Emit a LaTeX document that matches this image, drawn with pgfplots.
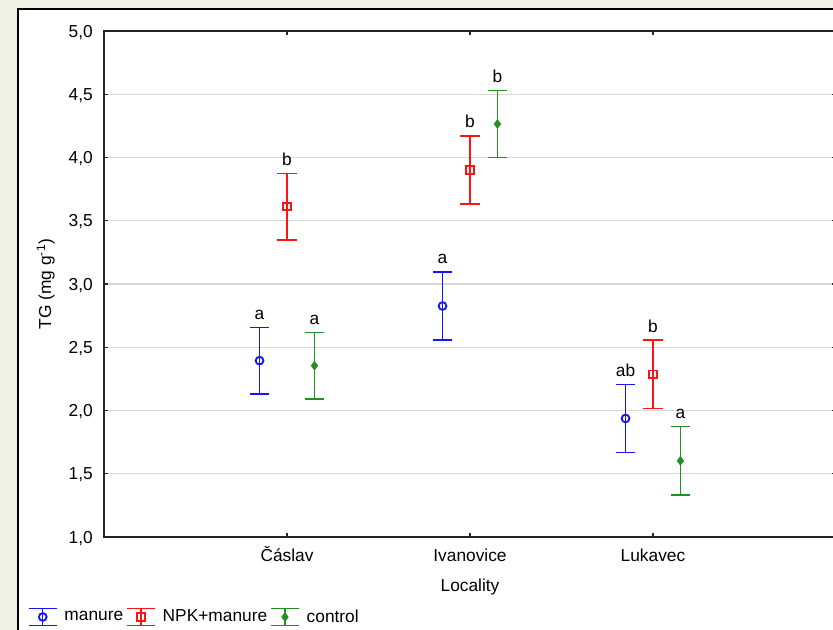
\documentclass[border=0pt]{standalone}
\usepackage{fontspec}
\setmainfont{Liberation Sans}
\usepackage{pgfplots}
\pgfplotsset{compat=1.18}
\definecolor{bgcol}{RGB}{239,241,230}
\definecolor{myblue}{RGB}{20,20,255}
\definecolor{myred}{RGB}{255,20,20}
\definecolor{mygreen}{RGB}{34,145,34}
\definecolor{gridc}{RGB}{215,215,215}
\newcommand{\fs}{\fontsize{13}{15}\selectfont}
\begin{document}
\begin{tikzpicture}
\useasboundingbox (0,0) rectangle (624.75pt,472.5pt);
\clip (0,0) rectangle (624.75pt,472.5pt);
\fill[bgcol] (0,0) rectangle (624.75pt,472.5pt);
\draw[black, line width=1.5pt, fill=white] (13.5pt,-20pt) rectangle (700pt,465.75pt);
\begin{axis}[
  at={(78pt,69.75pt)}, anchor=south west,
  scale only axis, width=549pt, height=379.5pt,
  xmin=0, xmax=4, ymin=1, ymax=5,
  xtick={1,2,3}, xticklabels={Čáslav,Ivanovice,Lukavec},
  ytick={1,1.5,2,2.5,3,3.5,4,4.5,5},
  /pgf/number format/assume math mode=true,
  yticklabel style={/pgf/number format/fixed, /pgf/number format/fixed zerofill, /pgf/number format/precision=1, /pgf/number format/use comma},
  tick label style={font=\fs},
  label style={font=\fs},
  xticklabel style={inner sep=0pt, anchor=base, yshift=-18.5pt},
  yticklabel style={inner sep=0pt, anchor=east, xshift=-8.25pt, text height=9.3pt, text depth=0pt},
  major tick length=3pt,
  tick style={black!85, line width=0.8pt},
  axis line style={black!85, line width=1.1pt},
  ymajorgrids, major grid style={gridc, line width=0.9pt},
  xlabel={Locality},
  xlabel style={at={(axis description cs:0.5,-0.0982)}, anchor=center},
  ylabel={TG (mg g\textsuperscript{-1})},
  ylabel style={at={(axis description cs:-0.0796,0.5)}, anchor=center},
  legend image code/.code={
    \draw[#1] (0pt,6.4pt) -- (21pt,6.4pt) (0pt,-6.4pt) -- (21pt,-6.4pt) (10.5pt,-6.4pt) -- (10.5pt,6.4pt);
    \draw[#1] plot coordinates {(10.5pt,0pt)};
  },
  legend columns=3,
  legend style={draw=none, fill=none, inner sep=0pt, outer sep=0pt, font=\fs,
    nodes={inner sep=0pt}, column sep=5.25pt,
    /tikz/every even column/.append style={column sep=2.25pt},
    at={(axis description cs:-0.1038,-0.1581)}, anchor=west},
  clip=false,
]
% manure
\addplot[myblue, line width=1.1pt, only marks, mark=o, mark size=2.9pt, mark options={line width=1.4pt, myblue}, forget plot,
  error bars/.cd, y dir=both, y explicit, error mark=|,
  error bar style={line width=1.1pt, myblue},
  error mark options={myblue, mark size=7.3pt, line width=1.1pt}]
  coordinates {(0.85,2.394) +- (0,0.264) (1.85,2.826) +- (0,0.269) (2.85,1.937) +- (0,0.270)};
% NPK+manure
\addplot[myred, line width=1.1pt, only marks, mark=square, mark size=2.8pt, mark options={line width=1.4pt, myred}, forget plot,
  error bars/.cd, y dir=both, y explicit, error mark=|,
  error bar style={line width=1.1pt, myred},
  error mark options={myred, mark size=7.3pt, line width=1.1pt}]
  coordinates {(1,3.611) +- (0,0.264) (2,3.901) +- (0,0.269) (3,2.287) +- (0,0.270)};
% control
\addplot[mygreen, line width=1.1pt, only marks, mark=diamond*, mark size=3pt, mark options={fill=mygreen, line width=0.8pt, mygreen}, forget plot,
  error bars/.cd, y dir=both, y explicit, error mark=|,
  error bar style={line width=1.1pt, mygreen},
  error mark options={mygreen, mark size=7.3pt, line width=1.1pt}]
  coordinates {(1.15,2.354) +- (0,0.264) (2.15,4.265) +- (0,0.263) (3.15,1.602) +- (0,0.270)};
% letters
\addplot[draw=none, forget plot, nodes near coords, point meta=explicit symbolic,
  every node near coord/.append style={anchor=base, yshift=6pt, font=\fs, text=black}]
  coordinates {(0.85,2.658)[a] (1,3.875)[b] (1.15,2.618)[a]
               (1.85,3.095)[a] (2,4.170)[b] (2.15,4.528)[b]
               (2.85,2.207)[ab] (3,2.557)[b] (3.15,1.872)[a]};
\addlegendimage{myblue, line width=1.1pt, mark=o, mark size=2.9pt, mark options={line width=1.4pt}}
\addlegendentry{manure}
\addlegendimage{myred, line width=1.1pt, mark=square, mark size=2.8pt, mark options={line width=1.4pt}}
\addlegendentry{NPK+manure}
\addlegendimage{mygreen, line width=1.1pt, mark=diamond*, mark size=3pt, mark options={fill=mygreen, line width=0.8pt}}
\addlegendentry{control}
\end{axis}
\end{tikzpicture}
\end{document}
